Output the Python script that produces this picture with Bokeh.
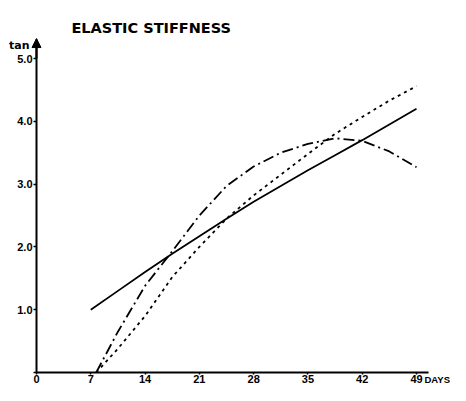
from bokeh.plotting import figure
from bokeh.models import FixedTicker, Label, Arrow, NormalHead, Range1d, PrintfTickFormatter
from bokeh.embed import file_html
from bokeh.resources import INLINE

# Data
x_ticks = [0, 7, 14, 21, 28, 35, 42, 49]
y_ticks = [0, 1, 2, 3, 4, 5]

solid_days = [7, 10.5, 14, 17.5, 21, 24.5, 28, 31.5, 35, 38.5, 42, 45.5, 49]
solid_vals = [1.0, 1.3, 1.6, 1.89, 2.17, 2.45, 2.72, 2.97, 3.22, 3.46, 3.7, 3.95, 4.2]

dotted_days = [7.7, 10.5, 14, 17.5, 21, 24.5, 28, 31.5, 35, 38.5, 42, 45.5, 49]
dotted_vals = [0.0, 0.38, 0.9, 1.52, 2.0, 2.45, 2.82, 3.15, 3.48, 3.8, 4.07, 4.33, 4.56]

dashdot_days = [7.7, 10.5, 14, 17.5, 21, 24.5, 28, 31.5, 35, 38.5, 42, 45.5, 49]
dashdot_vals = [0.0, 0.65, 1.38, 1.93, 2.5, 2.97, 3.28, 3.5, 3.64, 3.73, 3.69, 3.52, 3.27]

TITLE_FONT = "DejaVu Sans"
TICK_FONT = "Liberation Sans"

p = figure(width=450, height=385, output_backend="svg", toolbar_location=None,
           x_range=Range1d(-4.642, 53.384), y_range=Range1d(-0.207, 5.924),
           min_border=0)
p.outline_line_color = None
p.xgrid.visible = False
p.ygrid.visible = False
p.background_fill_color = "white"
p.border_fill_color = "white"

for ax in (p.xaxis[0], p.yaxis[0]):
    ax.fixed_location = 0
    ax.axis_line_width = 2
    ax.axis_line_color = "black"
    ax.major_tick_line_color = "black"
    ax.major_tick_line_width = 1.5
    ax.minor_tick_line_color = None
    ax.major_tick_in = 0
    ax.major_label_text_font = TICK_FONT
    ax.major_label_text_font_style = "bold"
    ax.major_label_text_font_size = "11px"
    ax.major_label_text_color = "black"

p.xaxis[0].ticker = FixedTicker(ticks=x_ticks)
p.xaxis[0].bounds = (0, 50.5)
p.xaxis[0].major_tick_out = 2
p.xaxis[0].major_label_standoff = 0
p.yaxis[0].ticker = FixedTicker(ticks=y_ticks)
p.yaxis[0].bounds = (0, 5.3)
p.yaxis[0].formatter = PrintfTickFormatter(format="%.1f")
p.yaxis[0].major_label_overrides = {0: ""}
p.yaxis[0].major_tick_out = 3
p.yaxis[0].major_label_standoff = 1

p.line(solid_days, solid_vals, line_color="black", line_width=1.8)
p.line(dotted_days, dotted_vals, line_color="black", line_width=1.8, line_dash="3 4")
p.line(dashdot_days, dashdot_vals, line_color="black", line_width=1.8, line_dash="11 4 2 4")

p.add_layout(Arrow(end=NormalHead(size=9, fill_color="black", line_color="black"),
                   x_start=0, y_start=5.0, x_end=0, y_end=5.318,
                   line_color="black", line_width=2))

p.add_layout(Label(x=4.5, y=5.494, text="ELASTIC STIFFNESS", text_font=TITLE_FONT,
                   text_font_style="bold", text_font_size="14.5px", text_color="black",
                   text_baseline="alphabetic"))
p.add_layout(Label(x=0, y=5.21, x_offset=-7, text="tan", text_font=TITLE_FONT,
                   text_font_style="bold", text_font_size="11px", text_color="black",
                   text_align="right", text_baseline="alphabetic"))
p.add_layout(Label(x=49, y=-0.0318, x_offset=8, text="DAYS", text_font=TICK_FONT,
                   text_font_style="bold", text_font_size="9.5px", text_color="black",
                   text_align="left", text_baseline="top"))

open("out.html", "w").write(file_html(p, INLINE))
